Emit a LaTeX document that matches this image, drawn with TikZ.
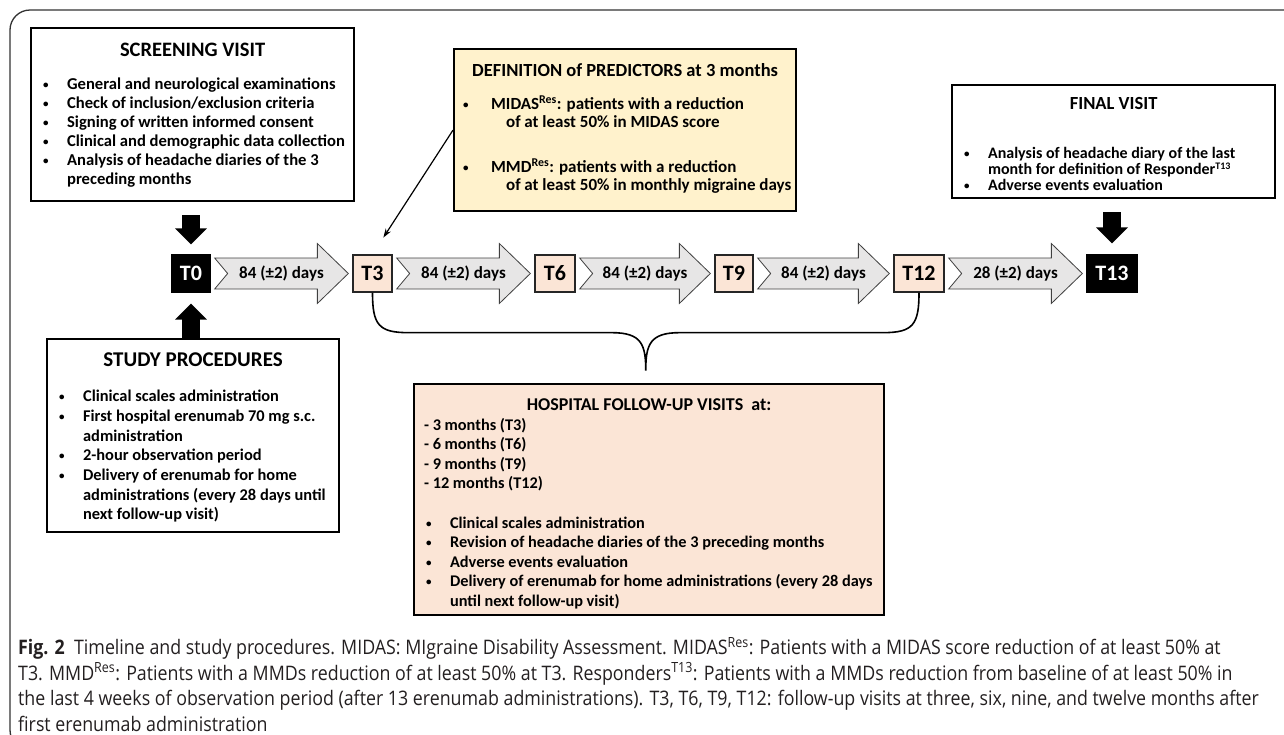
\documentclass[tikz,border=0pt]{standalone}
\usepackage{fontspec}
\setmainfont{Carlito}
\newfontfamily\capfont[FakeStretch=0.89]{Open Sans}
\usetikzlibrary{calc, positioning, arrows.meta}
\definecolor{peach}{RGB}{251,229,214}
\definecolor{cream}{RGB}{255,242,204}
\definecolor{arrowgray}{RGB}{231,230,230}
\definecolor{capgray}{RGB}{35,31,32}
\newcommand{\boxtitle}[1]{\fontsize{#1}{21}\selectfont}
\newcommand{\nl}{\hfil\break}
\newcommand{\smallbul}{\raisebox{1pt}{\fontsize{11}{11}\selectfont\textbullet}}
\newcommand{\supr}[1]{\raisebox{0.28em}{\fontsize{10}{10}\selectfont #1}}
\newcommand{\itm}[1]{\par\hangindent=36pt\hangafter=1\noindent\hspace*{12pt}\makebox[24pt][l]{\smallbul}#1\par}
\newcommand{\defitm}[1]{\par\hangindent=52pt\hangafter=1\noindent\hspace*{9pt}\makebox[28pt][l]{\smallbul}#1\par}
\newcommand{\dayarrow}[4]{%
  \coordinate (#3a) at ($(#1.east)+(4,0)$);
  \coordinate (#3b) at ($(#2.west)+(-4,0)$);
  \draw[dayshape] ($(#3a)+(0,-15.5)$) -- ($(#3b)+(-31,-15.5)$) -- ($(#3b)+(-31,-30)$) -- (#3b)
    -- ($(#3b)+(-31,30)$) -- ($(#3b)+(-31,15.5)$) -- ($(#3a)+(0,15.5)$) -- ($(#3a)+(13,0)$) -- cycle;
  \node[font=\bfseries\fontsize{17}{17}\selectfont] (#3) at ($(#3a)!0.5!(#3b)$) {#4 (±2) days};
}

\begin{document}
\begin{tikzpicture}[x=1pt, y=-1pt, font=\bfseries,
    infobox/.style={draw, line width=2.2pt, inner sep=0pt, anchor=north west},
    tstep/.style={draw=black!85, line width=1.3pt, fill=peach, minimum height=37pt, inner sep=0pt, font=\bfseries\fontsize{22}{22}\selectfont},
    tend/.style={tstep, fill=black, text=white, draw=black},
    dayshape/.style={draw=black!75, fill=arrowgray, line width=0.8pt},
    blockarr/.style={line width=18pt, -{Triangle[width=31pt,length=16pt]}},
    brace/.style={line width=1.6pt}]
    \useasboundingbox (0,0) rectangle (1284,734);

    \draw[line width=1.3pt, black!80, rounded corners=20pt] (1284,10) -- (10,10) -- (10,750) -- (40,750);

    \node[infobox] (scr) at (30,27) {\parbox[c][173pt][t]{323pt}{\lineskiplimit=-100pt\vspace*{15.4pt}\centering{\boxtitle{20.5}SCREENING VISIT\par}\vspace{14pt}\raggedright\fontsize{16.6}{19}\selectfont
        \itm{General and neurological examinations}
        \itm{Check of inclusion/exclusion criteria}
        \itm{Signing of written informed consent}
        \itm{Clinical and demographic data collection}
        \itm{Analysis of headache diaries of the 3\nl preceding months}}};

    \node[infobox, fill=cream] (def) at (453,48) {\parbox[c][162pt][t]{342pt}{\lineskiplimit=-100pt\vspace*{14.2pt}\centering{\boxtitle{18.5}DEFINITION of PREDICTORS at 3 months\par}\vspace{15pt}\raggedright\fontsize{17}{18}\selectfont
        \defitm{MIDAS\textsuperscript{Res}: patients with a reduction\nl of at least 50\% in MIDAS score}
        \vspace{27pt}
        \defitm{MMD\textsuperscript{Res}: patients with a reduction\nl \makebox[0pt][l]{of at least 50\% in monthly migraine days}}}};

    \node[infobox] (final) at (951,84) {\parbox[c][113pt][t]{323pt}{\lineskiplimit=-100pt\vspace*{12.2pt}\centering{\boxtitle{18.5}FINAL VISIT\par}\vspace{33pt}\raggedright\fontsize{16}{16}\selectfont
        \itm{Analysis of headache diary of the last\nl month for definition of Responder\supr{T13}}
        \itm{Adverse events evaluation}}};

    \node[infobox] (study) at (46,338) {\parbox[c][193pt][t]{292pt}{\lineskiplimit=-100pt\vspace*{14.1pt}\centering{\boxtitle{21}STUDY PROCEDURES\par}\vspace{15pt}\raggedright\fontsize{16.4}{19.7}\selectfont
        \itm{Clinical scales administration}
        \itm{First hospital erenumab 70 mg s.c.\nl administration}
        \itm{2-hour observation period}
        \itm{Delivery of erenumab for home\nl administrations (every 28 days until\nl next follow-up visit)}}};

    \node[infobox, fill=peach] (hosp) at (413,383) {\parbox[c][231pt][t]{470pt}{\lineskiplimit=-100pt\vspace*{14.5pt}\centering{\boxtitle{18}HOSPITAL FOLLOW-UP VISITS\ \ at:\par}\raggedright\fontsize{16.3}{19.6}\selectfont
        \noindent\hspace*{10pt}- 3 months (T3)\par
        \noindent\hspace*{10pt}- 6 months (T6)\par
        \noindent\hspace*{10pt}- 9 months (T9)\par
        \noindent\hspace*{10pt}- 12 months (T12)\par
        \vspace{19.6pt}
        \itm{Clinical scales administration}
        \itm{Revision of headache diaries of the 3 preceding months}
        \itm{Adverse events evaluation}
        \itm{Delivery of erenumab for home administrations (every 28 days\nl until next follow-up visit)}}};

    \node[tend, minimum width=38pt] (T0) at (191,273.5) {T0};
    \node[tstep, minimum width=39pt] (T3) at (372.5,273.5) {T3};
    \node[tstep, minimum width=40pt] (T6) at (555,273.5) {T6};
    \node[tstep, minimum width=38pt] (T9) at (734,273.5) {T9};
    \node[tstep, minimum width=50pt] (T12) at (919,273.5) {T12};
    \node[tend, minimum width=50pt] (T13) at (1112,273.5) {T13};

    \foreach \a/\b/\n/\d in {T0/T3/da/84, T3/T6/db/84, T6/T9/dc/84, T9/T12/dd/84, T12/T13/de/28}{
        \dayarrow{\a}{\b}{\n}{\d}
    }

    \draw[blockarr, shorten <=13pt, shorten >=10pt] (scr.south -| T0) -- (T0.north);
    \draw[blockarr, shorten >=11pt] (study.north -| T0) -- (T0.south);
    \draw[blockarr, shorten <=13pt, shorten >=11pt] (final.south -| T13) -- (T13.north);

    \draw[-{Stealth[length=9pt,width=6pt]}, line width=1.2pt, shorten >=20pt] (def.west) -- (T3.north);

    \coordinate (tip) at ($(T3.south)!0.5!(T12.south)+(0,78)$);
    \draw[brace] (T3.south) .. controls +(0,32) and +(-30,0) .. ($(T3.south)+(36,40)$)
        -- ($(tip)+(-34,-38)$) .. controls +(30,0) and +(0,-26) .. (tip)
        .. controls +(0,-26) and +(-30,0) .. ($(tip)+(34,-38)$)
        -- ($(T12.south)+(-36,40)$) .. controls +(30,0) and +(0,32) .. (T12.south);

    \node[anchor=north west, align=left, inner sep=0pt, text=capgray, font=\capfont\fontsize{20}{25.5}\selectfont] (cap) at (18,637)
        {{\bfseries Fig. 2}\ \ Timeline and study procedures. MIDAS: MIgraine Disability Assessment. MIDAS\textsuperscript{Res}: Patients with a MIDAS score reduction of at least 50\% at\\
        T3. MMD\textsuperscript{Res}: Patients with a MMDs reduction of at least 50\% at T3. Responders\textsuperscript{T13}: Patients with a MMDs reduction from baseline of at least 50\% in\\
        the last 4 weeks of observation period (after 13 erenumab administrations). T3, T6, T9, T12: follow-up visits at three, six, nine, and twelve months after\\
        first erenumab administration};
\end{tikzpicture}
\end{document}
